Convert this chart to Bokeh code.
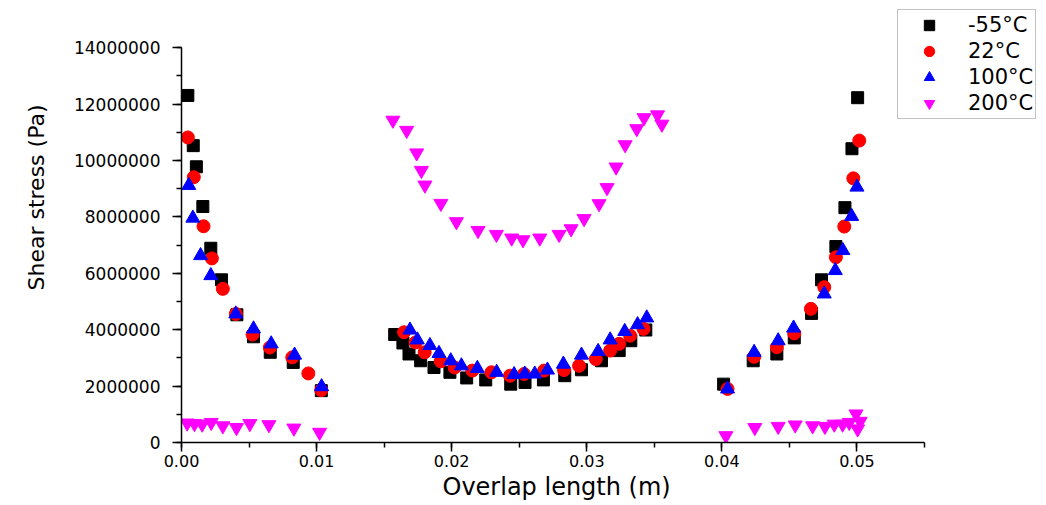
from bokeh.plotting import figure
from bokeh.embed import file_html
from bokeh.resources import INLINE
from bokeh.models import SingleIntervalTicker, NumeralTickFormatter, Range1d, Title

# ---------------- data (overlap length in m, shear stress in Pa) ----------------
labels = ["-55\u00b0C", "22\u00b0C", "100\u00b0C", "200\u00b0C"]
colors = ["#000000", "#ff0000", "#0000ff", "#ff00ff"]
markers = ["square", "circle", "triangle", "inverted_triangle"]

# -55 C
m55_x_left = [0.00047, 0.00087, 0.0011, 0.00158, 0.00217, 0.00296, 0.0041, 0.00533, 0.00657, 0.00827, 0.01035]
m55_y_left = [12.31, 10.53, 9.78, 8.37, 6.89, 5.77, 4.53, 3.75, 3.20, 2.84, 1.84]
m55_x_mid = [0.01578, 0.01639, 0.01684, 0.0177, 0.01869, 0.01987, 0.02111, 0.02252, 0.02437, 0.02543,
             0.02679, 0.02837, 0.02961, 0.03109, 0.0324, 0.03326, 0.03437]
m55_y_mid = [3.83, 3.53, 3.14, 2.90, 2.66, 2.49, 2.29, 2.22, 2.07, 2.13, 2.22, 2.37, 2.58, 2.90, 3.26, 3.61, 3.99]
m55_x_right = [0.04013, 0.04232, 0.04407, 0.04536, 0.04664, 0.04738, 0.04844, 0.04911, 0.04963, 0.05005]
m55_y_right = [2.07, 2.90, 3.14, 3.71, 4.58, 5.77, 6.95, 8.33, 10.42, 12.23]

# 22 C
t22_x_left = [0.00047, 0.00091, 0.00163, 0.00225, 0.00306, 0.00402, 0.00526, 0.00654, 0.0082, 0.00939, 0.01035]
t22_y_left = [10.82, 9.41, 7.67, 6.53, 5.45, 4.56, 3.83, 3.37, 3.02, 2.45, 1.86]
t22_x_mid = [0.01647, 0.01733, 0.018, 0.01919, 0.02022, 0.02153, 0.02294, 0.02432, 0.02536, 0.02684,
             0.02832, 0.02943, 0.03067, 0.03173, 0.0324, 0.03321, 0.0342]
t22_y_mid = [3.91, 3.55, 3.20, 2.88, 2.66, 2.55, 2.49, 2.37, 2.43, 2.55, 2.57, 2.72, 2.96, 3.26, 3.50, 3.79, 4.03]
t22_x_right = [0.04042, 0.04239, 0.04407, 0.04536, 0.04659, 0.04758, 0.04844, 0.04906, 0.04973, 0.05017]
t22_y_right = [1.90, 3.04, 3.38, 3.87, 4.74, 5.51, 6.57, 7.66, 9.37, 10.71]

# 100 C
t100_x_left = [0.00054, 0.00084, 0.00141, 0.00217, 0.00402, 0.00533, 0.00664, 0.00837, 0.01037]
t100_y_left = [9.12, 7.96, 6.63, 5.92, 4.56, 4.03, 3.50, 3.10, 1.98]
t100_x_mid = [0.01691, 0.01746, 0.01839, 0.01906, 0.01993, 0.02072, 0.0219, 0.02333, 0.02462, 0.02541,
              0.02615, 0.02709, 0.02827, 0.02961, 0.03084, 0.03173, 0.03281, 0.03376, 0.03444]
t100_y_mid = [3.99, 3.64, 3.44, 3.16, 2.90, 2.72, 2.63, 2.49, 2.41, 2.43, 2.43, 2.57, 2.78, 3.10, 3.23,
              3.64, 3.94, 4.18, 4.42]
t100_x_right = [0.04042, 0.04239, 0.04417, 0.04531, 0.04758, 0.0484, 0.04896, 0.04961, 0.05]
t100_y_right = [1.90, 3.20, 3.61, 4.06, 5.27, 6.10, 6.81, 8.02, 9.06]

# 200 C
t200_x_left = [0.00042, 0.00096, 0.00153, 0.0022, 0.00306, 0.00407, 0.00506, 0.00647, 0.00832, 0.01022]
t200_y_left = [0.69, 0.67, 0.65, 0.71, 0.59, 0.53, 0.67, 0.63, 0.51, 0.36]
t200_x_mid = [0.01565, 0.01667, 0.01741, 0.01776, 0.01802, 0.0192, 0.02035, 0.02195, 0.02331, 0.02444,
              0.02528, 0.02652, 0.02795, 0.02884, 0.0298, 0.03091, 0.0315, 0.03217, 0.03284, 0.0337,
              0.03424, 0.03524, 0.03556]
t200_y_mid = [11.43, 11.07, 10.27, 9.65, 9.13, 8.48, 7.83, 7.52, 7.38, 7.25, 7.19, 7.25, 7.38, 7.58,
              7.94, 8.47, 9.04, 9.77, 10.56, 11.13, 11.52, 11.62, 11.29]
t200_x_right = [0.0403, 0.04244, 0.04417, 0.04543, 0.04672, 0.04763, 0.04832, 0.04894, 0.04943,
                0.04993, 0.05024, 0.05005]
t200_y_right = [0.24, 0.53, 0.57, 0.62, 0.59, 0.57, 0.65, 0.65, 0.71, 1.01, 0.75, 0.48]

x_ticks_max = 0.055
y_ticks_max = 14e6
MPA = 1e6  # stress lists above are in units of 10^6 Pa

series_x = [m55_x_left + m55_x_mid + m55_x_right,
            t22_x_left + t22_x_mid + t22_x_right,
            t100_x_left + t100_x_mid + t100_x_right,
            t200_x_left + t200_x_mid + t200_x_right]
series_y = [[v * MPA for v in m55_y_left + m55_y_mid + m55_y_right],
            [v * MPA for v in t22_y_left + t22_y_mid + t22_y_right],
            [v * MPA for v in t100_y_left + t100_y_mid + t100_y_right],
            [v * MPA for v in t200_y_left + t200_y_mid + t200_y_right]]
sizes = [12, 13, 14, 14]

# ---------------- layout (pixels) ----------------
W, H = 1046, 505
ML, MB = 181, 63
frame_w = W - ML
frame_h = H - MB
x_axis_len_px = 743.0     # length of the drawn x axis (0 .. 0.055)
y_axis_len_px = 394.7     # length of the drawn y axis (0 .. 14e6)
x_end = x_ticks_max * frame_w / x_axis_len_px
y_end = y_ticks_max * frame_h / y_axis_len_px

FONT = "DejaVu Sans"

p = figure(width=W, height=H, output_backend="svg", toolbar_location=None,
           x_range=Range1d(0, x_end), y_range=Range1d(0, y_end),
           min_border_left=ML, min_border_bottom=MB, min_border_right=0, min_border_top=0)
p.outline_line_color = None
p.grid.visible = False
p.background_fill_color = "white"
p.border_fill_color = "white"

for i in range(4):
    p.scatter(series_x[i], series_y[i], marker=markers[i], size=sizes[i],
              fill_color=colors[i], line_color=colors[i], legend_label=labels[i])

# axes
p.xaxis.ticker = SingleIntervalTicker(interval=0.01, num_minor_ticks=2)
p.yaxis.ticker = SingleIntervalTicker(interval=2e6, num_minor_ticks=2)
p.xaxis.formatter = NumeralTickFormatter(format="0.00")
p.yaxis.formatter = NumeralTickFormatter(format="0")
p.xaxis.bounds = (0, x_ticks_max)
p.yaxis.bounds = (0, y_ticks_max)

for ax in (p.xaxis, p.yaxis):
    ax.axis_line_color = "black"
    ax.axis_line_width = 1.5
    ax.major_tick_line_color = "black"
    ax.minor_tick_line_color = "black"
    ax.major_tick_line_width = 1.5
    ax.minor_tick_line_width = 1.5
    ax.major_tick_in = 0
    ax.minor_tick_in = 0
    ax.major_tick_out = 9
    ax.minor_tick_out = 5
    ax.major_label_text_font = FONT
    ax.major_label_text_color = "black"

p.yaxis.major_label_text_font_size = "17px"
p.yaxis.major_label_standoff = 12
p.xaxis.major_label_text_font_size = "16px"
p.xaxis.major_label_standoff = 3

# axis titles (as titles so they can be offset like in the reference)
xt = Title(text="Overlap length (m)", align="left", offset=261, standoff=3,
           text_font=FONT, text_font_size="24px", text_font_style="normal", text_color="black")
p.add_layout(xt, "below")
yt = Title(text="Shear stress (Pa)", align="left", offset=152, standoff=40, vertical_align="top",
           text_font=FONT, text_font_size="22px", text_font_style="normal", text_color="black")
p.add_layout(yt, "left")

# legend
lg = p.legend[0]
lg.location = (716, 323)
lg.padding = 2
lg.spacing = 0
lg.margin = 0
lg.glyph_width = 58
lg.glyph_height = 26
lg.label_height = 26
lg.label_standoff = 10
lg.label_text_font = FONT
lg.label_text_font_size = "21px"
lg.label_text_color = "black"
lg.border_line_color = "#888888"
lg.border_line_width = 1
lg.background_fill_color = "white"
lg.background_fill_alpha = 1.0

open("out.html", "w").write(file_html(p, INLINE))
